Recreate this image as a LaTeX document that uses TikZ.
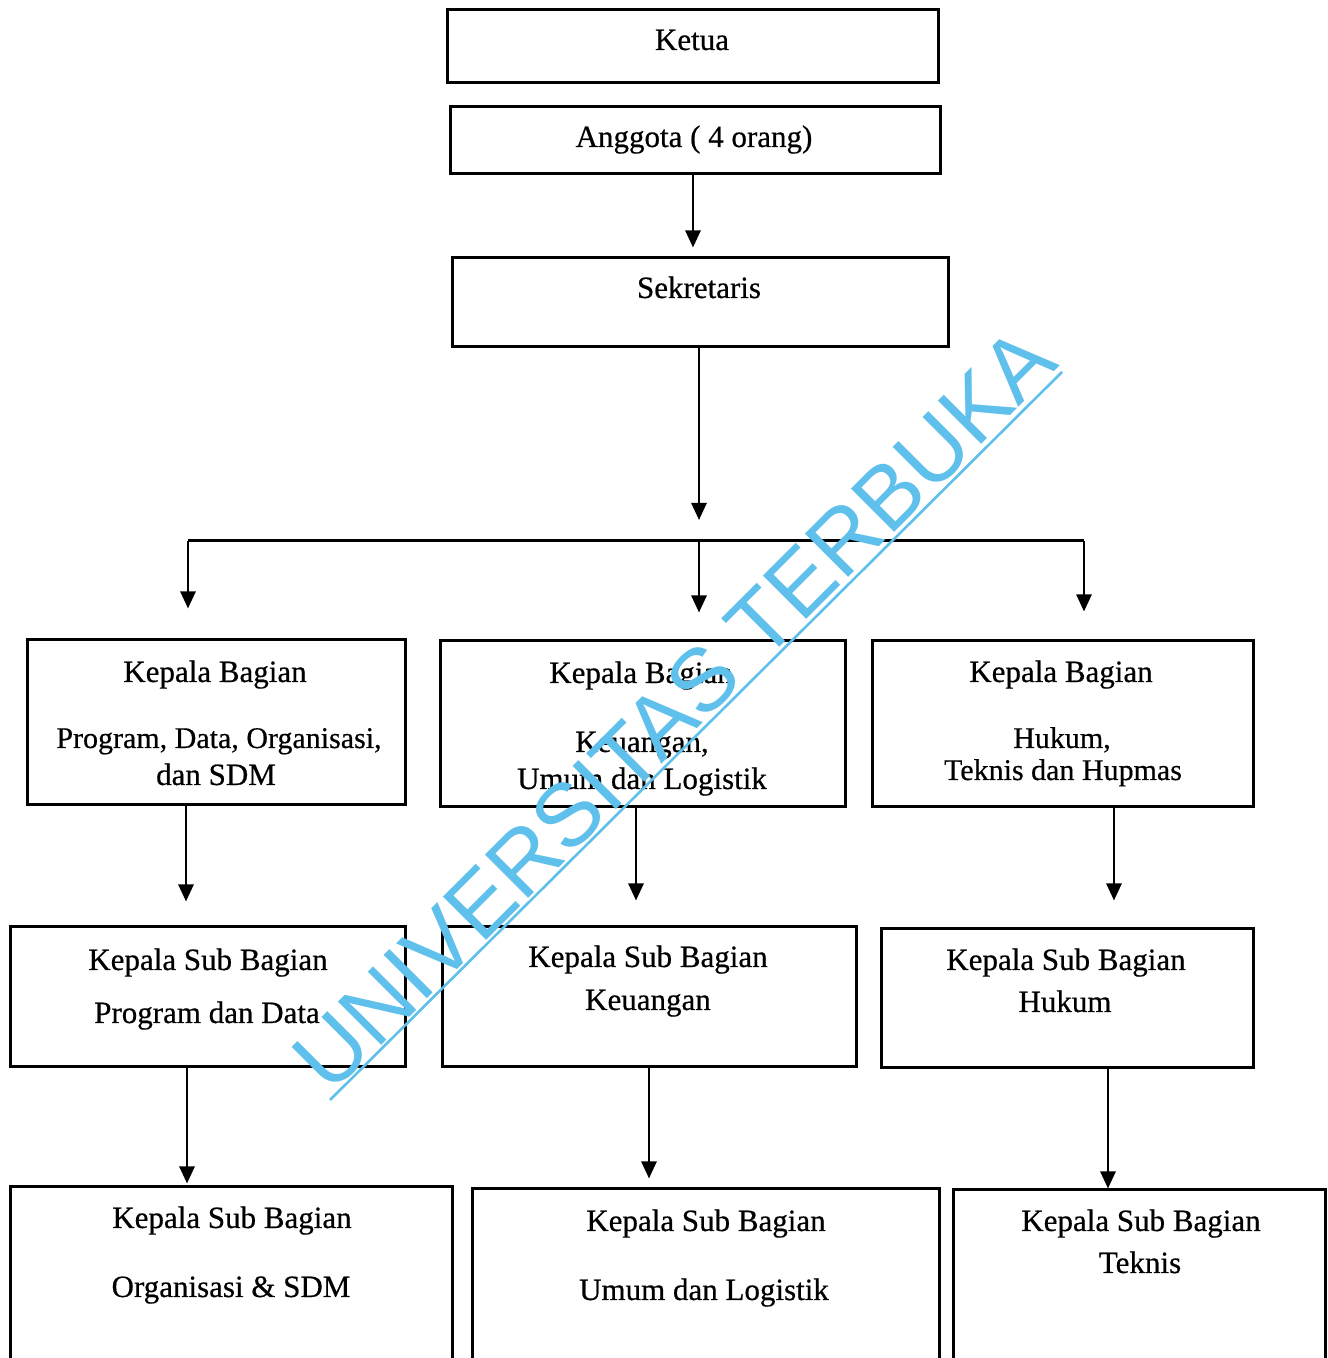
\documentclass[tikz,border=0pt]{standalone}
\usepackage{fontspec}
\setmainfont[FakeBold=0.5]{Liberation Serif}
\newfontfamily\wmfont{Liberation Sans}
\usetikzlibrary{arrows.meta,calc}
\definecolor{wmblue}{RGB}{95,192,236}
\tikzset{
  box/.style={draw=black, line width=3pt, inner sep=0pt, fill=none},
  lbl/.style={font=\fontsize{31}{37}\selectfont, inner sep=0pt, anchor=base},
  arr/.style={draw=black, line width=2.6pt, -{Triangle[width=15pt,length=17pt]}},
  bar/.style={draw=black, line width=3pt},
  wmtext/.style={font=\wmfont\fontsize{89}{93}\selectfont, text=wmblue, inner sep=0pt, rotate=45},
  wmline/.style={draw=wmblue, line width=2.6pt}
}
\begin{document}
\begin{tikzpicture}[x=1pt,y=1pt]
\useasboundingbox (0,0) rectangle (1328,1358);
\clip (0,0) rectangle (1328,1358);
\fill[white] (0,0) rectangle (1328,1358);

% boxes
\node[box, minimum width=491pt, minimum height=73pt] (ketua) at (692.5,1311.5) {};
\node[box, minimum width=490pt, minimum height=67pt] (anggota) at (695,1217.5) {};
\node[box, minimum width=496pt, minimum height=89pt] (sek) at (700,1055.5) {};
\node[box, minimum width=378pt, minimum height=165pt] (kb1) at (216,635.5) {};
\node[box, minimum width=405pt, minimum height=166pt] (kb2) at (642.5,634) {};
\node[box, minimum width=381pt, minimum height=166pt] (kb3) at (1062.5,634) {};
\node[box, minimum width=395pt, minimum height=140pt] (ksb1) at (207.5,361) {};
\node[box, minimum width=414pt, minimum height=140pt] (ksb2) at (649,361) {};
\node[box, minimum width=372pt, minimum height=139pt] (ksb3) at (1067,359.5) {};
\node[box, minimum width=442pt, minimum height=233pt] (ksb4) at (231,54.5) {};
\node[box, minimum width=467pt, minimum height=231pt] (ksb5) at (705.5,53.5) {};
\node[box, minimum width=372pt, minimum height=230pt] (ksb6) at (1139,53) {};

% texts
\node[lbl] (tketua) at (692,1308) {Ketua};
\node[lbl] (tanggota) at (694,1211) {Anggota ( 4 orang)};
\node[lbl] (tsek) at (699,1060) {Sekretaris};

\node[lbl] (tkb1a) at (215,676) {Kepala Bagian};
\node[lbl, font=\fontsize{30}{36}\selectfont] (tkb1b) at (219,610) {Program, Data, Organisasi,};
\node[lbl] (tkb1c) at (216,573) {dan SDM};

\node[lbl] (tkb2a) at (641,675) {Kepala Bagian};
\node[lbl] (tkb2b) at (642,606) {Keuangan,};
\node[lbl] (tkb2c) at (642,569) {Umum dan Logistik};

\node[lbl] (tkb3a) at (1061,676) {Kepala Bagian};
\node[lbl, font=\fontsize{30}{36}\selectfont] (tkb3b) at (1062,610) {Hukum,};
\node[lbl, font=\fontsize{30}{36}\selectfont] (tkb3c) at (1063,578) {Teknis dan Hupmas};

\node[lbl] (tksb1a) at (208,388) {Kepala Sub Bagian};
\node[lbl] (tksb1b) at (207,335) {Program dan Data};
\node[lbl] (tksb2a) at (648,391) {Kepala Sub Bagian};
\node[lbl] (tksb2b) at (648,348) {Keuangan};
\node[lbl] (tksb3a) at (1066,388) {Kepala Sub Bagian};
\node[lbl] (tksb3b) at (1065,346) {Hukum};
\node[lbl] (tksb4a) at (232,130) {Kepala Sub Bagian};
\node[lbl] (tksb4b) at (231,61) {Organisasi \& SDM};
\node[lbl] (tksb5a) at (706,127) {Kepala Sub Bagian};
\node[lbl] (tksb5b) at (704,58) {Umum dan Logistik};
\node[lbl] (tksb6a) at (1141,127) {Kepala Sub Bagian};
\node[lbl] (tksb6b) at (1140,85) {Teknis};

% connectors
\coordinate (a1) at (693,1184);
\draw[arr, shorten >=9pt] (a1) -- (a1 |- sek.north);
\coordinate (s1) at (699,1011);
\coordinate (sektip) at (699,838);
\draw[arr] (s1) -- (sektip);
\coordinate (bl) at (188,817);
\coordinate (bm) at (699,817);
\coordinate (br) at (1084,817);
\draw[bar] (bl) -- (br);
\draw[arr, shorten >=30pt] (bl) -- (bl |- kb1.north);
\draw[arr, shorten >=27pt] (bm) -- (bm |- kb2.north);
\draw[arr, shorten >=28pt] (br) -- (br |- kb3.north);

\coordinate (k1) at (186,553);
\coordinate (k2) at (636,551);
\coordinate (k3) at (1114,551);
\draw[arr, shorten >=24pt] (k1) -- (k1 |- ksb1.north);
\draw[arr, shorten >=25pt] (k2) -- (k2 |- ksb2.north);
\draw[arr, shorten >=27pt] (k3) -- (k3 |- ksb3.north);

\coordinate (m1) at (187,291);
\coordinate (m2) at (649,291);
\coordinate (m3) at (1108,290);
\draw[arr, shorten >=2pt] (m1) -- (m1 |- ksb4.north);
\draw[arr, shorten >=9pt] (m2) -- (m2 |- ksb5.north);
\draw[arr] (m3) -- (m3 |- ksb6.north);

% watermark
\node[wmtext] (wmark) at (674,649) {UNIVERSITAS TERBUKA};
\coordinate (wu1) at (330,258);
\coordinate (wu2) at (1062,986);
\draw[wmline] (wu1) -- (wu2);
\end{tikzpicture}
\end{document}
